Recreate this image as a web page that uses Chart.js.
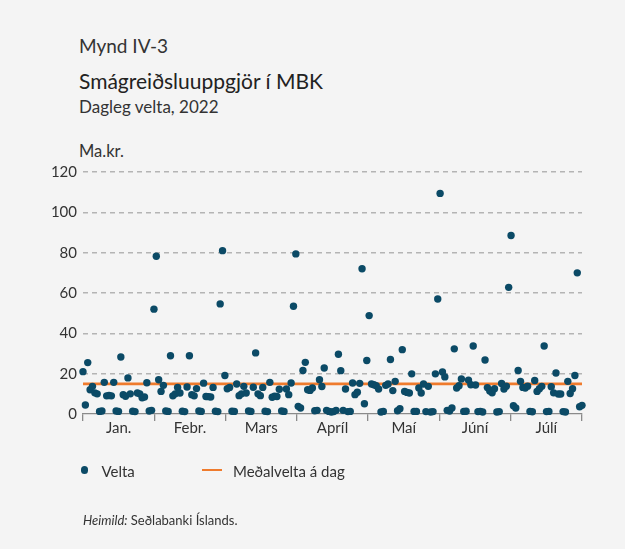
<!DOCTYPE html>
<html lang="is">
<head>
<meta charset="utf-8">
<title>Smágreiðsluuppgjör í MBK</title>
<script src="https://cdn.jsdelivr.net/npm/chart.js@4.4.1/dist/chart.umd.min.js"></script>
<style>
  html, body { margin: 0; padding: 0; }
  body {
    width: 625px; height: 549px; position: relative; overflow: hidden;
    background: #f4f4f4; font-family: Lato, "Open Sans", sans-serif; color: #333;
  }
  .t { position: absolute; white-space: nowrap; line-height: 1; }
  #fig   { left: 79px; top: 36px;  font-size: 19px; color: #333; }
  #title { left: 79px; top: 70px;  font-size: 21px; color: #222; }
  #sub   { left: 79px; top: 98px;  font-size: 17px; color: #333; }
  #unit  { left: 79px; top: 143px; font-size: 16.5px; color: #333; }
  #src   { left: 83px; top: 514px; font-size: 13px; color: #333; }
  #src i { font-style: italic; }
  .lg    { font-size: 15px; top: 464px; color: #333; }
  #lgDot { position: absolute; left: 80.6px; top: 466.3px; width: 7.4px; height: 7.4px; border-radius: 50%; background: #0b4a66; }
  #lgLine{ position: absolute; left: 202px; top: 468.7px; width: 20px; height: 2.7px; background: #ef7b2d; }
  #c { position: absolute; left: 0; top: 0; }
</style>
</head>
<body>
<div class="t" id="fig">Mynd IV-3</div>
<div class="t" id="title">Smágreiðsluuppgjör í MBK</div>
<div class="t" id="sub">Dagleg velta, 2022</div>
<div class="t" id="unit">Ma.kr.</div>
<canvas id="c" width="625" height="549"></canvas>
<div id="lgDot"></div>
<div class="t lg" style="left:101.5px">Velta</div>
<div id="lgLine"></div>
<div class="t lg" style="left:233px">Meðalvelta á dag</div>
<div class="t" id="src"><i>Heimild:</i> Seðlabanki Íslands.</div>

<script>
// Daily turnover (ma.kr.), one value per calendar day, 2022
const jan = [21, 4.5, 25.5, 12, 13.7, 10.5, 10, 1.3, 1.5, 15.7, 9, 9.2, 9, 15.7, 1.5, 1.3,
             28.3, 9.6, 8.8, 17.9, 10, 1.4, 1.2, 10.4, 10, 8, 8.4, 15.5, 1.5, 1.8, 52];
const feb = [78.2, 17, 11.2, 14.2, 1.5, 1.3, 28.9, 9, 10, 13.2, 10.4, 1.4, 1.2, 13.4,
             28.9, 9.6, 9, 12.6, 1.5, 1.3, 15.3, 8.7, 8.6, 8.4, 13.2, 1.4, 1.2, 54.6];
const mar = [81, 19.1, 12.5, 13.2, 1.4, 1.3, 14.9, 9.1, 10, 13.7, 10.4, 1.5, 1.3, 13.3,
             30.3, 10, 9.1, 13.2, 1.4, 1.2, 15.7, 8.3, 8.8, 8.7, 12.3, 1.5, 1.3, 12.4, 9.6, 15.4, 53.4];
const apr = [79.4, 3.8, 3, 21.6, 25.6, 12, 11.7, 12.9, 1.6, 1.8, 17, 13.6, 22.8, 1.8, 1.3,
             1, 1.2, 1.8, 29.6, 21.5, 1.8, 12.4, 1.2, 1.3, 15.4, 9.6, 10.8, 15.2, 72, 5.1];
const mai = [26.5, 48.8, 14.9, 14.5, 14, 12.4, 1, 1.3, 14.2, 14.9, 27, 11.6, 16.2, 1.6, 2.6,
             31.9, 11.2, 10.7, 10.4, 19.9, 1.3, 1.3, 12.9, 10.4, 14.9, 1.2, 13.7, 1, 1.2, 19.9, 57];
const jun = [109.4, 20.8, 18.4, 1.8, 1.5, 3, 32.3, 12.9, 14, 17.4, 1.3, 1.4, 16.8, 14.5,
             33.7, 14.4, 1.2, 1.3, 1, 26.8, 13.1, 11.4, 10.5, 12.5, 1, 1.2, 15.1, 12.4, 13.8, 62.8];
const jul = [88.5, 4.1, 3, 21.6, 16.2, 13.2, 12.9, 13.8, 1.3, 1.1, 16.6, 11.2, 12.5, 13.7,
             33.7, 1.2, 1.3, 13.5, 10.5, 20.3, 9.9, 9.9, 1.2, 1, 16.2, 10.2, 12.5, 19.1, 70, 3.6, 4.3];

// Average daily turnover over the period
const meanDaily = 14.9;

const months = ['Jan.', 'Febr.', 'Mars', 'Apríl', 'Maí', 'Júní', 'Júlí'];
const yTicks = [0, 20, 40, 60, 80, 100, 120];

const teal = '#0b4a66';
const orange = '#ef7b2d';
const axisGray = '#8a8a8a';
const gridGray = '#b4b4b4';

// Day-of-year index for each value
const points = [];
let day = 0;
[jan, feb, mar, apr, mai, jun, jul].forEach(month => {
  month.forEach(v => { points.push({ x: day, y: v }); day++; });
});
const lastDay = day - 1;
const monthSpan = lastDay / months.length;

// Tick marks at month borders, labels midway between them
const xTickValues = [];
for (let k = 0; k <= months.length; k++) {
  xTickValues.push(k * monthSpan);
  if (k < months.length) xTickValues.push((k + 0.5) * monthSpan);
}

const tickFont = { family: 'Lato', size: 15, lineHeight: 1 };

new Chart(document.getElementById('c'), {
  type: 'scatter',
  data: {
    datasets: [
      {
        label: 'Velta',
        data: points,
        backgroundColor: teal,
        borderWidth: 0,
        pointRadius: 3.7,
        pointHoverRadius: 3.7,
        clip: false,
        order: 0
      },
      {
        type: 'line',
        label: 'Meðalvelta á dag',
        data: [{ x: 0, y: meanDaily }, { x: lastDay, y: meanDaily }],
        borderColor: orange,
        borderWidth: 2.7,
        pointRadius: 0,
        showLine: true,
        fill: false,
        order: 1
      }
    ]
  },
  options: {
    responsive: false,
    animation: false,
    devicePixelRatio: 1,
    layout: { padding: { left: 0, top: 172, right: 43, bottom: 0 } },
    plugins: { legend: { display: false }, tooltip: { enabled: false } },
    scales: {
      x: {
        type: 'linear',
        min: 0,
        max: lastDay,
        afterBuildTicks: s => { s.ticks = xTickValues.map(v => ({ value: v })); },
        afterFit: s => { s.height = 135; },
        grid: {
          drawOnChartArea: false,
          drawTicks: true,
          tickLength: 7,
          lineWidth: 1.3,
          tickColor: c => (c.index % 2 === 0 ? axisGray : 'rgba(0,0,0,0)')
        },
        border: { display: true, color: axisGray, width: 1.3 },
        ticks: {
          autoSkip: false,
          maxRotation: 0,
          minRotation: 0,
          padding: 0,
          color: '#333',
          font: tickFont,
          callback: (v, i) => (i % 2 === 1 ? months[(i - 1) / 2] : '')
        }
      },
      y: {
        min: 0,
        max: 120,
        afterBuildTicks: s => { s.ticks = yTicks.map(v => ({ value: v })); },
        afterFit: s => { s.width = 83; },
        grid: {
          drawTicks: false,
          lineWidth: 1.5,
          color: c => (c.tick && c.tick.value === 0 ? 'rgba(0,0,0,0)' : gridGray)
        },
        border: { display: false, dash: [5, 4] },
        ticks: { padding: 6, color: '#333', font: tickFont }
      }
    }
  }
});
</script>
</body>
</html>
